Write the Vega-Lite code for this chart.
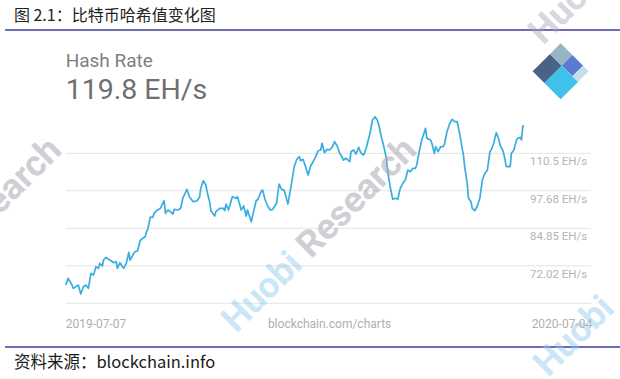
{
  "$schema": "https://vega.github.io/schema/vega-lite/v6.json",
  "width": 620,
  "height": 379,
  "autosize": {"type": "none"},
  "padding": 0,
  "background": "#ffffff",
  "config": {"view": {"stroke": null}, "font": "Roboto"},
  "datasets": {
    "hash": [
      {"date":"2019-07-07","v":65.44},{"date":"2019-07-09","v":67.73},{"date":"2019-07-12","v":65.44},{"date":"2019-07-13","v":64.31},
      {"date":"2019-07-15","v":64.86},{"date":"2019-07-17","v":65.44},{"date":"2019-07-19","v":62.36},{"date":"2019-07-21","v":64.86},
      {"date":"2019-07-23","v":65.44},{"date":"2019-07-25","v":64.31},{"date":"2019-07-27","v":69.44},{"date":"2019-07-29","v":68.86},
      {"date":"2019-07-31","v":71.70},{"date":"2019-08-02","v":71.15},{"date":"2019-08-03","v":72.86},{"date":"2019-08-05","v":71.94},
      {"date":"2019-08-06","v":73.99},{"date":"2019-08-08","v":74.92},{"date":"2019-08-10","v":74.23},{"date":"2019-08-12","v":73.75},
      {"date":"2019-08-14","v":73.07},{"date":"2019-08-16","v":73.41},{"date":"2019-08-17","v":71.15},{"date":"2019-08-19","v":73.07},
      {"date":"2019-08-21","v":71.70},{"date":"2019-08-22","v":71.15},{"date":"2019-08-24","v":72.86},{"date":"2019-08-26","v":76.63},
      {"date":"2019-08-27","v":73.99},{"date":"2019-08-30","v":76.29},{"date":"2019-08-31","v":76.83},{"date":"2019-09-02","v":77.18},
      {"date":"2019-09-04","v":80.67},{"date":"2019-09-06","v":81.42},{"date":"2019-09-08","v":81.97},{"date":"2019-09-09","v":83.68},
      {"date":"2019-09-10","v":84.50},{"date":"2019-09-12","v":88.71},{"date":"2019-09-14","v":88.60},{"date":"2019-09-15","v":89.97},
      {"date":"2019-09-17","v":90.86},{"date":"2019-09-20","v":91.68},{"date":"2019-09-23","v":94.28},{"date":"2019-09-24","v":89.97},
      {"date":"2019-09-26","v":91.10},{"date":"2019-09-28","v":90.52},{"date":"2019-09-30","v":89.73},{"date":"2019-10-01","v":91.34},
      {"date":"2019-10-04","v":91.10},{"date":"2019-10-06","v":91.68},{"date":"2019-10-08","v":95.45},{"date":"2019-10-09","v":96.23},
      {"date":"2019-10-11","v":98.18},{"date":"2019-10-13","v":95.65},{"date":"2019-10-16","v":93.94},{"date":"2019-10-19","v":94.28},
      {"date":"2019-10-21","v":95.45},{"date":"2019-10-22","v":98.53},{"date":"2019-10-24","v":101.13},{"date":"2019-10-26","v":99.65},
      {"date":"2019-10-27","v":97.36},{"date":"2019-10-29","v":93.94},{"date":"2019-10-30","v":90.86},{"date":"2019-11-02","v":89.05},
      {"date":"2019-11-03","v":90.52},{"date":"2019-11-06","v":91.68},{"date":"2019-11-09","v":91.68},{"date":"2019-11-10","v":90.86},
      {"date":"2019-11-11","v":93.15},{"date":"2019-11-13","v":91.10},{"date":"2019-11-16","v":95.65},{"date":"2019-11-19","v":95.10},
      {"date":"2019-11-20","v":95.65},{"date":"2019-11-22","v":92.81},{"date":"2019-11-23","v":91.10},{"date":"2019-11-25","v":92.47},
      {"date":"2019-11-27","v":89.05},{"date":"2019-11-28","v":91.10},{"date":"2019-12-01","v":87.10},{"date":"2019-12-02","v":89.05},
      {"date":"2019-12-05","v":94.52},{"date":"2019-12-06","v":94.52},{"date":"2019-12-09","v":97.60},{"date":"2019-12-10","v":97.94},
      {"date":"2019-12-12","v":94.52},{"date":"2019-12-14","v":92.47},{"date":"2019-12-16","v":91.10},{"date":"2019-12-18","v":91.34},
      {"date":"2019-12-21","v":93.39},{"date":"2019-12-23","v":100.0},{"date":"2019-12-25","v":98.18},{"date":"2019-12-27","v":97.94},
      {"date":"2019-12-30","v":93.15},{"date":"2020-01-02","v":100.44},{"date":"2020-01-04","v":105.92},{"date":"2020-01-06","v":108.45},
      {"date":"2020-01-08","v":109.34},{"date":"2020-01-09","v":107.97},{"date":"2020-01-11","v":108.45},{"date":"2020-01-13","v":105.92},
      {"date":"2020-01-15","v":103.08},{"date":"2020-01-17","v":106.15},{"date":"2020-01-19","v":107.63},{"date":"2020-01-21","v":109.34},
      {"date":"2020-01-23","v":111.39},{"date":"2020-01-25","v":111.63},{"date":"2020-01-26","v":113.92},{"date":"2020-01-28","v":110.71},
      {"date":"2020-01-30","v":111.87},{"date":"2020-02-01","v":111.63},{"date":"2020-02-03","v":112.55},{"date":"2020-02-05","v":114.47},
      {"date":"2020-02-07","v":113.00},{"date":"2020-02-09","v":110.5},{"date":"2020-02-10","v":109.92},{"date":"2020-02-12","v":108.21},
      {"date":"2020-02-14","v":108.79},{"date":"2020-02-17","v":107.63},{"date":"2020-02-18","v":111.05},{"date":"2020-02-20","v":111.63},
      {"date":"2020-02-22","v":110.26},{"date":"2020-02-24","v":112.55},{"date":"2020-02-26","v":110.5},{"date":"2020-02-28","v":109.92},
      {"date":"2020-03-01","v":112.21},{"date":"2020-03-03","v":115.63},{"date":"2020-03-04","v":117.34},{"date":"2020-03-06","v":121.89},
      {"date":"2020-03-08","v":123.02},{"date":"2020-03-10","v":121.65},{"date":"2020-03-11","v":120.18},{"date":"2020-03-13","v":116.18},
      {"date":"2020-03-15","v":112.76},{"date":"2020-03-17","v":108.79},{"date":"2020-03-18","v":104.20},{"date":"2020-03-20","v":99.07},
      {"date":"2020-03-22","v":94.76},{"date":"2020-03-24","v":95.10},{"date":"2020-03-26","v":94.76},{"date":"2020-03-28","v":98.53},
      {"date":"2020-03-30","v":100.24},{"date":"2020-04-01","v":101.36},{"date":"2020-04-03","v":104.79},{"date":"2020-04-05","v":104.20},
      {"date":"2020-04-07","v":105.37},{"date":"2020-04-09","v":105.37},{"date":"2020-04-10","v":106.50},{"date":"2020-04-12","v":111.05},
      {"date":"2020-04-14","v":115.05},{"date":"2020-04-17","v":119.05},{"date":"2020-04-18","v":115.63},{"date":"2020-04-21","v":115.05},
      {"date":"2020-04-22","v":113.92},{"date":"2020-04-24","v":110.5},{"date":"2020-04-25","v":112.76},{"date":"2020-04-27","v":111.05},
      {"date":"2020-04-29","v":112.76},{"date":"2020-05-01","v":112.76},{"date":"2020-05-02","v":113.68},{"date":"2020-05-04","v":117.89},
      {"date":"2020-05-06","v":120.52},{"date":"2020-05-08","v":122.13},{"date":"2020-05-10","v":121.31},{"date":"2020-05-12","v":121.31},
      {"date":"2020-05-14","v":117.34},{"date":"2020-05-16","v":112.21},{"date":"2020-05-17","v":109.92},{"date":"2020-05-18","v":105.92},
      {"date":"2020-05-20","v":100.24},{"date":"2020-05-21","v":95.10},{"date":"2020-05-23","v":93.94},{"date":"2020-05-24","v":91.68},
      {"date":"2020-05-26","v":90.86},{"date":"2020-05-28","v":92.47},{"date":"2020-05-30","v":95.10},{"date":"2020-06-01","v":101.36},
      {"date":"2020-06-03","v":103.66},{"date":"2020-06-05","v":104.79},{"date":"2020-06-07","v":111.05},{"date":"2020-06-08","v":111.63},
      {"date":"2020-06-10","v":113.92},{"date":"2020-06-12","v":117.55},{"date":"2020-06-14","v":115.29},{"date":"2020-06-15","v":113.34},
      {"date":"2020-06-17","v":111.63},{"date":"2020-06-18","v":110.26},{"date":"2020-06-20","v":105.92},{"date":"2020-06-22","v":105.92},
      {"date":"2020-06-23","v":105.92},{"date":"2020-06-24","v":110.5},{"date":"2020-06-26","v":111.63},{"date":"2020-06-28","v":115.05},
      {"date":"2020-06-29","v":115.63},{"date":"2020-07-01","v":115.97},{"date":"2020-07-02","v":115.05},{"date":"2020-07-03","v":119.84},
      {"date":"2020-07-04","v":119.8}
    ],
    "grid": [
      {"v":110.5,"label":"110.5 EH/s"},
      {"v":97.68,"label":"97.68 EH/s"},
      {"v":84.85,"label":"84.85 EH/s"},
      {"v":72.02,"label":"72.02 EH/s"},
      {"v":59.19,"label":""}
    ],
    "logo": [{"piece":"dark"},{"piece":"gray"},{"piece":"purple"},{"piece":"light"},{"piece":"cyan"}]
  },
  "layer": [
    {
      "data": {"name": "grid"},
      "mark": {"type": "rule", "color": "#e4e4e4", "strokeWidth": 1},
      "encoding": {
        "x": {"datum": {"year":2019,"month":7,"date":7,"utc":true}, "type": "temporal",
              "scale": {"type": "utc", "domain": [{"year":2019,"month":5,"date":16,"utc":true},{"year":2020,"month":9,"date":18,"utc":true}]}, "axis": null},
        "x2": {"datum": {"year":2020,"month":8,"date":26,"utc":true}},
        "y": {"field": "v", "type": "quantitative", "scale": {"domain": [33.3, 162.94], "zero": false, "nice": false}, "axis": null}
      }
    },
    {
      "data": {"name": "grid"},
      "mark": {"type": "text", "align": "right", "baseline": "middle", "dy": 9, "font": "Roboto", "fontSize": 11.5, "color": "#b4b4b4"},
      "encoding": {
        "x": {"datum": {"year":2020,"month":8,"date":23,"utc":true}, "type": "temporal"},
        "y": {"field": "v", "type": "quantitative"},
        "text": {"field": "label"}
      }
    },
    {
      "data": {"name": "hash"},
      "mark": {"type": "line", "color": "#3aade0", "strokeWidth": 1.7, "strokeJoin": "round"},
      "encoding": {
        "x": {"field": "date", "type": "temporal"},
        "y": {"field": "v", "type": "quantitative"}
      }
    },
    {
      "data": {"values": [{}]},
      "mark": {"type": "rule", "color": "#3b3d9c", "strokeWidth": 1.5},
      "encoding": {
        "x": {"datum": {"year":2019,"month":5,"date":20,"utc":true}, "type": "temporal"},
        "x2": {"datum": {"year":2020,"month":9,"date":18,"utc":true}},
        "y": {"datum": 152.68, "type": "quantitative"}
      }
    },
    {
      "data": {"values": [{}]},
      "mark": {"type": "rule", "color": "#3b3d9c", "strokeWidth": 1.5},
      "encoding": {
        "x": {"datum": {"year":2019,"month":5,"date":20,"utc":true}, "type": "temporal"},
        "x2": {"datum": {"year":2020,"month":9,"date":18,"utc":true}},
        "y": {"datum": 44.24, "type": "quantitative"}
      }
    },
    {
      "data": {"values": [{"t": "图 2.1：比特币哈希值变化图"}]},
      "mark": {"type": "text", "align": "left", "baseline": "middle", "font": "Noto Sans CJK SC", "fontSize": 16, "color": "#222222"},
      "encoding": {
        "x": {"datum": {"year":2019,"month":5,"date":27,"utc":true}, "type": "temporal"},
        "y": {"datum": 157.47, "type": "quantitative"},
        "text": {"field": "t"}
      }
    },
    {
      "data": {"values": [{"t": "资料来源：blockchain.info"}]},
      "mark": {"type": "text", "align": "left", "baseline": "middle", "font": "Noto Sans CJK SC", "fontSize": 16.5, "color": "#1a1a1a"},
      "encoding": {
        "x": {"datum": {"year":2019,"month":5,"date":27,"utc":true}, "type": "temporal"},
        "y": {"datum": 38.8, "type": "quantitative"},
        "text": {"field": "t"}
      }
    },
    {
      "data": {"values": [{"t": "Hash Rate"}]},
      "mark": {"type": "text", "align": "left", "baseline": "alphabetic", "font": "Roboto", "fontSize": 19, "color": "#7f7f7f"},
      "encoding": {
        "x": {"datum": {"year":2019,"month":7,"date":7,"utc":true}, "type": "temporal"},
        "y": {"datum": 140.12, "type": "quantitative"},
        "text": {"field": "t"}
      }
    },
    {
      "data": {"values": [{"t": "119.8 EH/s"}]},
      "mark": {"type": "text", "align": "left", "baseline": "alphabetic", "font": "Roboto", "fontSize": 28.5, "color": "#6f6f6f"},
      "encoding": {
        "x": {"datum": {"year":2019,"month":7,"date":7,"utc":true}, "type": "temporal"},
        "y": {"datum": 128.97, "type": "quantitative"},
        "text": {"field": "t"}
      }
    },
    {
      "data": {"values": [{"t": "2019-07-07"}]},
      "mark": {"type": "text", "align": "left", "baseline": "middle", "font": "Roboto", "fontSize": 12, "color": "#b0b0b0"},
      "encoding": {
        "x": {"datum": {"year":2019,"month":7,"date":7,"utc":true}, "type": "temporal"},
        "y": {"datum": 52.11, "type": "quantitative"},
        "text": {"field": "t"}
      }
    },
    {
      "data": {"values": [{"t": "blockchain.com/charts"}]},
      "mark": {"type": "text", "align": "center", "baseline": "middle", "font": "Roboto", "fontSize": 12, "color": "#b0b0b0"},
      "encoding": {
        "x": {"datum": {"year":2020,"month":2,"date":1,"utc":true}, "type": "temporal"},
        "y": {"datum": 52.11, "type": "quantitative"},
        "text": {"field": "t"}
      }
    },
    {
      "data": {"values": [{"t": "2020-07-04"}]},
      "mark": {"type": "text", "align": "right", "baseline": "middle", "font": "Roboto", "fontSize": 12, "color": "#b0b0b0"},
      "encoding": {
        "x": {"datum": {"year":2020,"month":8,"date":27,"utc":true}, "type": "temporal"},
        "y": {"datum": 52.11, "type": "quantitative"},
        "text": {"field": "t"}
      }
    },
    {
      "data": {"name": "logo"},
      "mark": {"type": "point", "filled": true, "opacity": 1, "size": 3136, "strokeWidth": 0},
      "encoding": {
        "x": {"datum": {"year":2020,"month":8,"date":2,"utc":true}, "type": "temporal"},
        "y": {"datum": 138.55, "type": "quantitative"},
        "shape": {"field": "piece", "type": "nominal", "legend": null,
          "scale": {"domain": ["dark","gray","purple","light","cyan"],
                    "range": ["M-1,0L-0.38,-0.62L0.04,-0.2L-0.58,0.42Z","M-0.38,-0.62L0,-1L0.42,-0.58L0.04,-0.2Z","M0.04,-0.2L0.42,-0.58L0.8,-0.2L0.42,0.18Z","M0.42,0.18L0.8,-0.2L1,0L0.62,0.38Z","M-0.58,0.42L0.04,-0.2L0.62,0.38L0,1Z"]}},
        "color": {"field": "piece", "type": "nominal", "legend": null,
          "scale": {"domain": ["dark","gray","purple","light","cyan"],
                    "range": ["#4a6384","#97b3c6","#5b7bd0","#c3dfea","#3ec1ea"]}}
      }
    },
    {
      "data": {"values": [{"t": "Huobi"}]},
      "mark": {"type": "text", "align": "left", "baseline": "middle", "angle": -45, "font": "Roboto", "fontWeight": "bold", "fontSize": 36, "color": "#8cc8ee", "opacity": 0.45},
      "encoding": {
        "x": {"datum": {"year":2019,"month":11,"date":13,"utc":true}, "type": "temporal"},
        "y": {"datum": 51.42, "type": "quantitative"},
        "text": {"field": "t"}
      }
    },
    {
      "data": {"values": [{"t": "Research"}]},
      "mark": {"type": "text", "align": "right", "baseline": "middle", "angle": -45, "font": "Roboto", "fontWeight": "bold", "fontSize": 36, "color": "#a8a8b4", "opacity": 0.55},
      "encoding": {
        "x": {"datum": {"year":2020,"month":4,"date":5,"utc":true}, "type": "temporal"},
        "y": {"datum": 113.58, "type": "quantitative"},
        "text": {"field": "t"}
      }
    },
    {
      "data": {"values": [{"t": "Research"}]},
      "mark": {"type": "text", "align": "right", "baseline": "middle", "angle": -45, "font": "Roboto", "fontWeight": "bold", "fontSize": 36, "color": "#a8a8b4", "opacity": 0.55},
      "encoding": {
        "x": {"datum": {"year":2019,"month":6,"date":29,"utc":true}, "type": "temporal"},
        "y": {"datum": 113.58, "type": "quantitative"},
        "text": {"field": "t"}
      }
    },
    {
      "data": {"values": [{"t": "Huobi"}]},
      "mark": {"type": "text", "align": "left", "baseline": "middle", "angle": -45, "font": "Roboto", "fontWeight": "bold", "fontSize": 36, "color": "#8cc8ee", "opacity": 0.45},
      "encoding": {
        "x": {"datum": {"year":2020,"month":7,"date":17,"utc":true}, "type": "temporal"},
        "y": {"datum": 36.37, "type": "quantitative"},
        "text": {"field": "t"}
      }
    },
    {
      "data": {"values": [{"t": "Huobi"}]},
      "mark": {"type": "text", "align": "left", "baseline": "middle", "angle": -45, "font": "Roboto", "fontWeight": "bold", "fontSize": 36, "color": "#a8a8b4", "opacity": 0.45},
      "encoding": {
        "x": {"datum": {"year":2020,"month":7,"date":13,"utc":true}, "type": "temporal"},
        "y": {"datum": 149.94, "type": "quantitative"},
        "text": {"field": "t"}
      }
    }
  ]
}
